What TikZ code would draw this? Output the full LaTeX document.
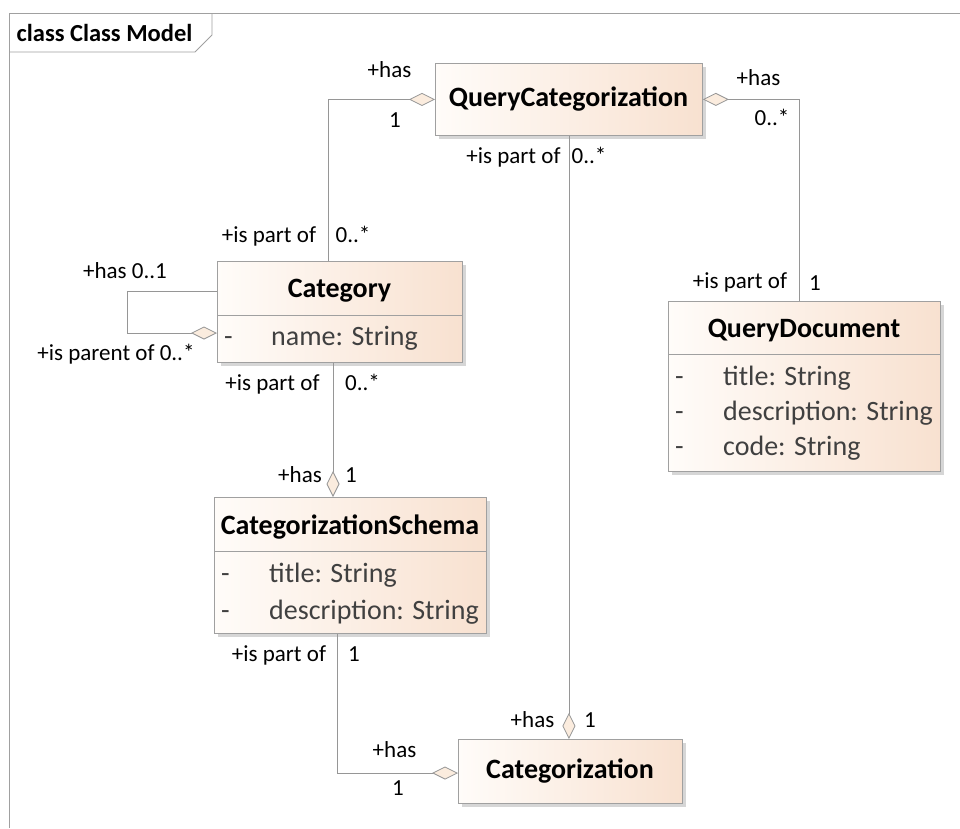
\documentclass[tikz,border=0pt]{standalone}
\usepackage{fontspec}
\setmainfont{Carlito}
\usetikzlibrary{arrows.meta,shadows}

\definecolor{peachR}{RGB}{248,225,208}
\definecolor{peachL}{RGB}{255,252,249}
\definecolor{edgegray}{RGB}{160,160,160}
\definecolor{linegray}{RGB}{150,150,150}
\definecolor{attrgray}{RGB}{64,64,64}
\definecolor{diafill}{RGB}{251,236,222}

\tikzset{
  classbox/.style={draw=edgegray, line width=0.8pt, left color=peachL, right color=peachR,
    inner sep=0pt, anchor=north west,
    drop shadow={shadow xshift=4pt, shadow yshift=-4pt, fill=black!16, opacity=1}},
  sepline/.style={draw=edgegray, line width=0.8pt},
  clsname/.style={font=\fontsize{28}{32}\selectfont\bfseries, inner sep=0pt, text=black},
  attr/.style={font=\fontsize{28}{32}\selectfont, inner sep=0pt, anchor=west, text=attrgray,
    text height=20pt, text depth=6pt},
  lbl/.style={font=\fontsize{23}{27}\selectfont, inner sep=0pt, text=black,
    text height=16pt, text depth=5pt},
  assoc/.style={draw=linegray, line width=0.8pt},
  agg/.style={assoc, -{Diamond[length=26pt, width=13pt, fill=diafill]}},
  framegray/.style={draw=edgegray, line width=0.8pt},
}

\begin{document}
\begin{tikzpicture}[x=1pt, y=-1pt]
\useasboundingbox (0,0) rectangle (960,828);

% diagram frame and its name tab
\draw[framegray] (9,828) -- (9,13) -- (960,13);
\draw[framegray] (9,52) -- (195,52) -- (212,35) -- (212,13);
\node[font=\fontsize{24.5}{28}\selectfont\bfseries, inner sep=0pt] (frametitle) at (104.5,33) {class Class Model};

% classes
\node[classbox, minimum width=267pt, minimum height=72pt] (qc) at (435,63) {};
\node[clsname] (qcname) at (568.5,99) {QueryCategorization};

\node[classbox, minimum width=245pt, minimum height=101pt] (cat) at (217,261) {};
\draw[sepline] ([yshift=-54pt]cat.north west) -- ([yshift=-54pt]cat.north east);
\node[clsname] (catname) at (339.5,291) {Category};
\node[attr] (catd1) at (224,338) {-};
\node[attr] (cata1) at (271,338) {name: String};

\node[classbox, minimum width=272pt, minimum height=170pt] (qd) at (668,301) {};
\draw[sepline] ([yshift=-53pt]qd.north west) -- ([yshift=-53pt]qd.north east);
\node[clsname] (qdname) at (804,331) {QueryDocument};
\node[attr] (qdd1) at (675,378) {-};
\node[attr] (qda1) at (723,378) {title: String};
\node[attr] (qdd2) at (675,413) {-};
\node[attr] (qda2) at (723,413) {description: String};
\node[attr] (qdd3) at (675,448) {-};
\node[attr] (qda3) at (723,448) {code: String};

\node[classbox, minimum width=272pt, minimum height=136pt] (sch) at (214,497) {};
\draw[sepline] ([yshift=-54pt]sch.north west) -- ([yshift=-54pt]sch.north east);
\node[clsname] (schname) at (350,527) {CategorizationSchema};
\node[attr] (schd1) at (221,575) {-};
\node[attr] (scha1) at (269,575) {title: String};
\node[attr] (schd2) at (221,612) {-};
\node[attr] (scha2) at (269,612) {description: String};

\node[classbox, minimum width=224pt, minimum height=64pt] (catz) at (458,739) {};
\node[clsname] (catzname) at (570,771) {Categorization};

% associations (diamond at the aggregating end)
\draw[agg] ([xshift=111pt]cat.north west) |- (qc.west);
\draw[agg] ([xshift=131pt]qd.north west) |- (qc.east);
\draw[agg] (qc.south) -- (qc.south |- catz.north);
\draw[agg] ([yshift=-30pt]cat.north west) -- ++(-90,0) |- ([yshift=-72pt]cat.north west);
\draw[agg] ([xshift=116pt]cat.south west) -- ([xshift=119pt]sch.north west);
\draw[agg] ([xshift=123pt]sch.south west) |- ([yshift=-34pt]catz.north west);

% role names and multiplicities
\node[lbl] (l1) at (389.5,72) {+has};
\node[lbl] (l2) at (395,122) {1};
\node[lbl] (l3) at (513.5,158) {+is part of};
\node[lbl] (l4) at (589,158) {0..*};
\node[lbl] (l5) at (758.5,80) {+has};
\node[lbl] (l6) at (772,120) {0..*};
\node[lbl] (l7) at (269,237) {+is part of};
\node[lbl] (l8) at (353,237) {0..*};
\node[lbl] (l9) at (125,273) {+has 0..1};
\node[lbl] (l10) at (116,355) {+is parent of 0..*};
\node[lbl] (l11) at (272.5,385) {+is part of};
\node[lbl] (l12) at (362.5,385) {0..*};
\node[lbl] (l13) at (300,477) {+has};
\node[lbl] (l14) at (351,477) {1};
\node[lbl] (l15) at (740,283) {+is part of};
\node[lbl] (l16) at (815,285) {1};
\node[lbl] (l17) at (279,656) {+is part of};
\node[lbl] (l18) at (354,656) {1};
\node[lbl] (l19) at (394.5,752) {+has};
\node[lbl] (l20) at (398,790) {1};
\node[lbl] (l21) at (532.5,722) {+has};
\node[lbl] (l22) at (590,722) {1};
\end{tikzpicture}
\end{document}
